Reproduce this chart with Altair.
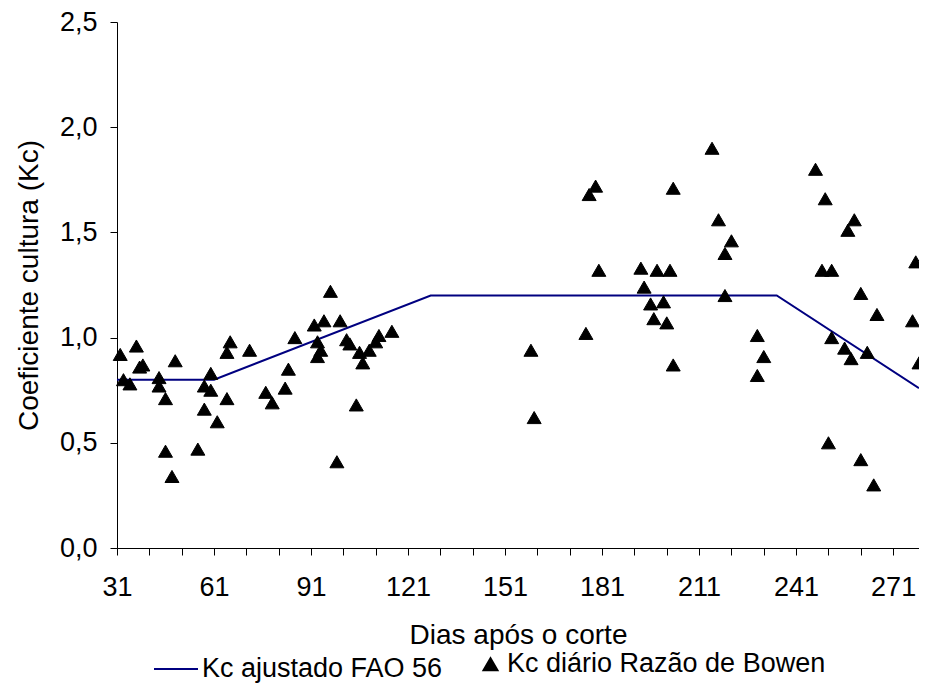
import pandas as pd
import altair as alt

# Kc FAO 56 ajustado (pontos de quebra da curva)
dias_fao = [31, 61, 128, 235, 279]
kc_fao = [0.80, 0.80, 1.20, 1.20, 0.76]

# Kc diário pelo método da razão de Bowen
dias_bowen = [32, 33, 35, 37, 38, 39, 44, 44, 46, 46, 48, 49, 56, 58, 58, 60, 60, 62,
              65, 65, 66, 72, 77, 79, 83, 84, 86, 92, 93, 93, 94, 95, 97, 99, 100,
              102, 103, 105, 106, 107, 109, 111, 112, 116,
              159, 160, 176, 177, 179, 180, 193, 194, 196, 197, 198, 200, 201, 202,
              203, 203, 215, 217, 219, 219, 221, 229, 229, 231,
              247, 249, 250, 251, 252, 252, 256, 257, 258, 259, 261, 261, 263, 265,
              266, 277, 278, 279]
kc_bowen = [0.92, 0.80, 0.78, 0.96, 0.86, 0.87, 0.81, 0.77, 0.71, 0.46, 0.34, 0.89,
            0.47, 0.66, 0.77, 0.83, 0.75, 0.60, 0.71, 0.93, 0.98, 0.94, 0.74, 0.69,
            0.76, 0.85, 1.00, 1.06, 0.98, 0.91, 0.94, 1.08, 1.22, 0.41, 1.08,
            0.99, 0.97, 0.68, 0.93, 0.88, 0.94, 0.98, 1.01, 1.03,
            0.94, 0.62, 1.02, 1.68, 1.72, 1.32, 1.33, 1.24, 1.16, 1.09, 1.32, 1.17,
            1.07, 1.32, 1.71, 0.87, 1.90, 1.56, 1.40, 1.20, 1.46, 1.01, 0.82, 0.91,
            1.80, 1.32, 1.66, 0.50, 1.32, 1.00, 0.95, 1.51, 0.90, 1.56, 1.21, 0.42,
            0.93, 0.30, 1.11, 1.08, 1.36, 0.88]

series = ["Kc ajustado FAO 56", "Kc diário Razão de Bowen"]

df_fao = pd.DataFrame({"dia": dias_fao, "kc": kc_fao, "serie": series[0]})
df_bowen = pd.DataFrame({"dia": dias_bowen, "kc": kc_bowen, "serie": series[1]})

FONT = "Liberation Sans"

x_axis = alt.Axis(
    values=list(range(31, 280, 10)),
    labelExpr="(datum.value - 31) % 30 == 0 ? datum.value : ''",
    title="Dias após o corte", titlePadding=21,
    tickSize=7, labelPadding=19, labelFlush=False, labelOverlap=False,
    labelFontSize=27, titleFontSize=28, grid=False,
)
y_axis = alt.Axis(
    values=[0, 0.5, 1.0, 1.5, 2.0, 2.5],
    labelExpr="replace(format(datum.value, '.1f'), '.', ',')",
    title="Coeficiente cultura (Kc)", titlePadding=16,
    tickSize=7, labelPadding=13, labelFlush=False,
    labelFontSize=27, titleFontSize=28, grid=False,
)

x = alt.X("dia:Q", scale=alt.Scale(domain=[31, 279], nice=False, zero=False), axis=x_axis)
y = alt.Y("kc:Q", scale=alt.Scale(domain=[0, 2.5], nice=False), axis=y_axis)

leg = alt.Legend(
    title=None, orient="none", legendX=36, legendY=624, direction="horizontal",
    labelFontSize=27, labelOffset=3, columnPadding=34, symbolStrokeWidth=2,
    labelLimit=0,
)
stroke_scale = alt.Scale(domain=series, range=["#000080", "black"])

line = alt.Chart(df_fao).mark_line(strokeWidth=2).encode(
    x=x, y=y,
    stroke=alt.Stroke("serie:N", scale=stroke_scale, legend=leg),
)

points = alt.Chart(df_bowen).mark_point(filled=True, fill="black", strokeWidth=1, opacity=1).encode(
    x=x, y=y,
    stroke=alt.Stroke("serie:N", scale=stroke_scale, legend=leg),
    shape=alt.Shape("serie:N", scale=alt.Scale(domain=series, range=["stroke", "triangle-up"]), legend=leg),
    size=alt.Size("serie:N", scale=alt.Scale(domain=series, range=[1936, 195]), legend=leg),
)

chart = alt.layer(line, points).properties(
    width=802, height=526,
    autosize=alt.AutoSizeParams(type="none"),
    padding={"left": 109, "top": 14, "right": 0, "bottom": 136},
).configure_view(
    stroke="transparent"
).configure_axis(
    labelFont=FONT, titleFont=FONT, titleFontWeight="normal",
    labelColor="black", titleColor="black", domainColor="black", tickColor="black",
).configure_legend(
    labelFont=FONT, labelColor="black",
)

chart.save("out.html", embed_options={"renderer": "svg", "actions": False})
